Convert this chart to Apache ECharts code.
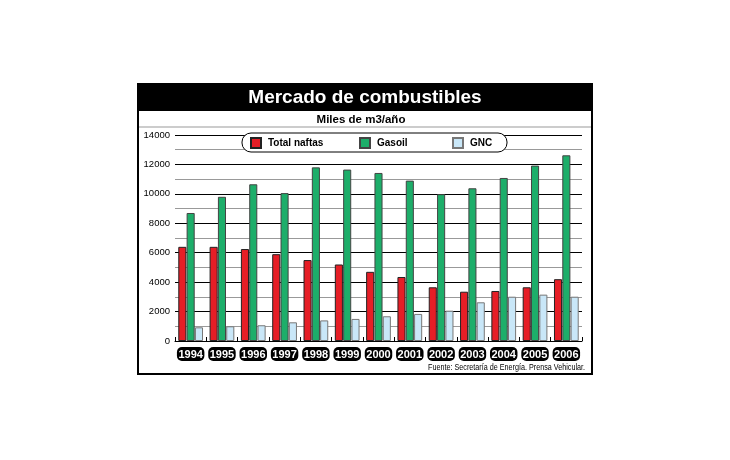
<!DOCTYPE html>
<html>
<head>
<meta charset="utf-8">
<script src="https://cdn.jsdelivr.net/npm/echarts@6/dist/echarts.min.js"></script>
<style>
html,body{margin:0;padding:0;background:#fff;}
#c{width:730px;height:460px;}
</style>
</head>
<body>
<div id="c"></div>
<script>
var categories = ['1994','1995','1996','1997','1998','1999','2000','2001','2002','2003','2004','2005','2006'];
var naftas = [6400, 6400, 6250, 5900, 5500, 5200, 4700, 4350, 3650, 3350, 3400, 3650, 4200];
var gasoil = [8700, 9800, 10650, 10050, 11800, 11650, 11420, 10900, 9980, 10380, 11080, 11920, 12620];
var gnc = [930, 1000, 1070, 1270, 1400, 1500, 1680, 1840, 2060, 2630, 3010, 3150, 3010];
var seriesNames = ['Total naftas', 'Gasoil', 'GNC'];
var titleText = 'Mercado de combustibles';
var subtitleText = 'Miles de m3/año';
var sourceText = 'Fuente: Secretaría de Energía. Prensa Vehicular.';

var FONT = "'Liberation Sans',Arial,sans-serif";
var chart = echarts.init(document.getElementById('c'), null, {renderer:'canvas'});

function legendAt(name, left) {
  return {
    data: [name], left: left, top: 137, padding: 0,
    itemWidth: 10, itemHeight: 10, icon: 'rect', itemGap: 0,
    textStyle: {fontFamily: FONT, fontWeight: 'bold', fontSize: 10, color: '#000', padding: [0,0,0,2]},
    z: 6
  };
}

var option = {
  animation: false,
  backgroundColor: '#fff',
  grid: {left: 175, right: 148, top: 135, bottom: 119, containLabel: false},
  legend: [legendAt(seriesNames[0], 250), legendAt(seriesNames[1], 359), legendAt(seriesNames[2], 452)],
  graphic: [
    {type: 'rect', shape: {x: 138, y: 84, width: 454, height: 290}, style: {fill: 'none', stroke: '#000', lineWidth: 2}, z: 10},
    {type: 'rect', shape: {x: 138, y: 84, width: 454, height: 27}, style: {fill: '#000'}, z: 10},
    {type: 'text', x: 365, y: 98, style: {text: titleText, fill: '#fff', font: "bold 19px " + FONT, textAlign: 'center', textVerticalAlign: 'middle'}, z: 11},
    {type: 'text', x: 361, y: 120, style: {text: subtitleText, fill: '#000', font: "bold 11.5px " + FONT, textAlign: 'center', textVerticalAlign: 'middle'}, z: 11},
    {type: 'line', shape: {x1: 139, y1: 127, x2: 591, y2: 127}, style: {stroke: '#999', lineWidth: 1}, z: 10},
    {type: 'rect', shape: {x: 242, y: 133, width: 265, height: 19, r: 9}, style: {fill: '#fff', stroke: '#000', lineWidth: 1}, z: 5},
    {type: 'text', x: 585, y: 368, scaleX: 0.8, originX: 0, originY: 0, style: {text: sourceText, fill: '#000', font: "9px " + FONT, textAlign: 'right', textVerticalAlign: 'middle'}, z: 11}
  ],
  xAxis: {
    type: 'category', data: categories,
    axisLine: {lineStyle: {color: '#000', width: 1}},
    axisTick: {show: true, inside: true, length: 4, lineStyle: {color: '#000'}},
    axisLabel: {
      margin: 6, interval: 0, hideOverlap: false,
      formatter: function (v) { return '{b|' + v + '}'; },
      rich: {b: {backgroundColor: '#000', color: '#fff', fontWeight: 'bold', fontSize: 11, fontFamily: FONT, borderRadius: 5, padding: [2, 1.5, 1, 1.5]}}
    }
  },
  yAxis: {
    type: 'value', min: 0, max: 14000, interval: 1000,
    axisLine: {show: false}, axisTick: {show: false},
    axisLabel: {
      margin: 5, color: '#000', fontSize: 9.5, fontFamily: FONT,
      formatter: function (v) { return v % 2000 === 0 ? String(v) : ''; }
    },
    splitLine: {lineStyle: {color: ['#000', '#999'], width: 1}}
  },
  series: [
    {name: seriesNames[0], type: 'bar', data: naftas, barCategoryGap: '21%', barGap: '3%',
     itemStyle: {color: '#e61e26', borderColor: '#222', borderWidth: 1}},
    {name: seriesNames[1], type: 'bar', data: gasoil, barGap: '3%',
     itemStyle: {color: '#1dae6a', borderColor: '#444', borderWidth: 1}},
    {name: seriesNames[2], type: 'bar', data: gnc, barGap: '3%',
     itemStyle: {color: '#c9e7f8', borderColor: '#777', borderWidth: 1}}
  ]
};
chart.setOption(option);
</script>
</body>
</html>
